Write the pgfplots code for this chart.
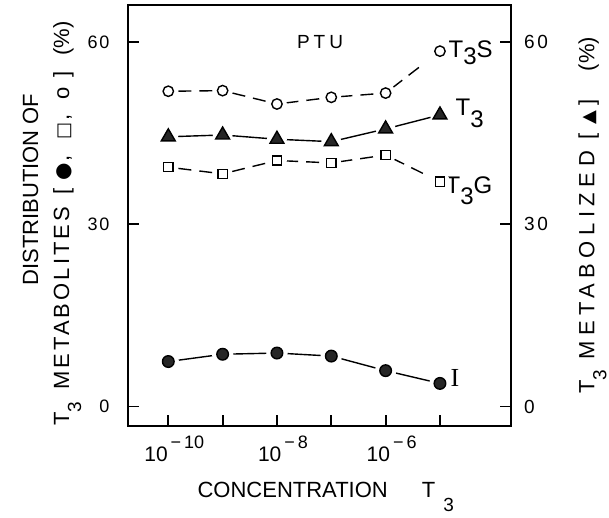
\documentclass[border=0pt]{standalone}
\usepackage{fontspec}
\setmainfont{Liberation Sans}
\newfontfamily\symfont{DejaVu Sans}
\newfontfamily\seriffont{Liberation Serif}
\usepackage{pgfplots}
\usepackage{pgfplotstable}
\pgfplotsset{compat=1.18}
\newcommand{\expo}[1]{10\hspace{1.5pt}\raisebox{6.3pt}{\fontsize{9}{9}\selectfont −\,#1}}
\newcommand{\ls}[2]{{\addfontfeature{LetterSpace=#1}#2}}
\pgfplotstableread{
x y
1e-10 51.9
1e-9 52.0
1e-8 49.8
1e-7 50.9
1e-6 51.6
1e-5 58.5
}\tTS
\pgfplotstableread{
x y
1e-10 44.4
1e-9 44.7
1e-8 44.0
1e-7 43.6
1e-6 45.7
1e-5 48.0
}\tT
\pgfplotstableread{
x y
1e-10 39.4
1e-9 38.3
1e-8 40.5
1e-7 40.1
1e-6 41.4
1e-5 37.0
}\tTG
\pgfplotstableread{
x y
1e-10 7.4
1e-9 8.6
1e-8 8.8
1e-7 8.3
1e-6 5.9
1e-5 3.8
}\tI
\begin{document}
\begin{tikzpicture}
\useasboundingbox (-63.85pt,-46.25pt) rectangle (240.65pt,212.75pt);
\begin{axis}[
  name=main,
  at={(0pt,0pt)}, anchor=south west,
  scale only axis, width=191.65pt, height=210.25pt,
  xmode=log, xmin=1.79e-11, xmax=2.03e-4,
  ymin=-3.13, ymax=66.1,
  axis line style={line width=1pt},
  tick style={line width=0.9pt, black},
  tick align=inside,
  major tick length=5.5pt,
  xminorticks=false, yminorticks=false,
  xtick={1e-10,1e-9,1e-8,1e-7,1e-6,1e-5},
  xticklabels={\expo{10},,\expo{8},,\expo{6},},
  xtick pos=bottom, ytick pos=left,
  ytick={0,30,60},
  /pgf/number format/assume math mode=true,
  yticklabel style={font=\fontsize{9}{10}\selectfont\addfontfeature{LetterSpace=10}, xshift=-5.5pt},
  xticklabel style={font=\fontsize{10.5}{12}\selectfont, xshift=3pt, yshift=-1.5pt},
  xlabel={CONCENTRATION\hspace{17pt}T\hspace{4pt}\raisebox{-7pt}{\fontsize{9.5}{9}\selectfont 3}},
  xlabel style={font=\fontsize{11}{12}\selectfont, at={(rel axis cs:0.5166,-0.1707)}, anchor=base},
  ylabel={\rule{34pt}{0pt}DISTRIBUTION OF\\T\raisebox{-6pt}{\fontsize{9.5}{9}\selectfont 3}\hspace{6pt}\ls{14}{METABOLITES}\hspace{6pt}[\hspace{4pt}{\symfont\fontsize{10}{8}\selectfont ●}\hspace{1pt},\hspace{8pt}{\symfont\fontsize{9}{8}\selectfont □}\hspace{1pt},\hspace{7pt}o\hspace{5pt}]\hspace{8pt}(\%)},
  ylabel style={align=center, font=\fontsize{11}{15.5}\selectfont, at={(rel axis cs:-0.1975,0.48)}, anchor=center},
  line width=0.7pt,
]
% T3S
\addplot[black, dash pattern=on 6.5pt off 4pt on 6.5pt off 10.17pt, dash phase=22.07pt, no markers] table {\tTS};
\addplot[white, only marks, mark=*, mark size=4.6pt] table {\tTS};
\addplot[black, only marks, mark=o, mark size=2.6pt, mark options={solid, fill=white}] table {\tTS};
% T3
\addplot[black, no markers] table {\tT};
\addplot[white, only marks, mark=*, mark size=4.6pt] table {\tT};
\addplot[black, only marks, mark=triangle*, mark size=4pt, mark options={solid, fill=black!85}] table {\tT};
% T3G
\addplot[black, dash pattern=on 6.5pt off 4pt on 6.5pt off 10.17pt, dash phase=22.07pt, no markers] table {\tTG};
\addplot[white, only marks, mark=*, mark size=4.6pt] table {\tTG};
\addplot[black, only marks, mark=square, mark size=2.3pt, mark options={solid, fill=white}] table {\tTG};
% I
\addplot[black, no markers] table {\tI};
\addplot[white, only marks, mark=*, mark size=5pt] table {\tI};
\addplot[black, only marks, mark=*, mark size=2.9pt, mark options={solid, fill=black!85}] table {\tI};
\node[anchor=base, font=\fontsize{9.5}{10}\selectfont] at (axis cs:6.2e-8,59.0) {P\hspace{2pt}T\hspace{2pt}U};
\node[anchor=base west, inner sep=0pt, font=\fontsize{12}{12}\selectfont] at (axis cs:1.4e-5,57.4) {T\raisebox{-3.3pt}{3}S};
\node[anchor=base west, inner sep=0pt, font=\fontsize{12}{12}\selectfont] at (axis cs:1.89e-5,47.9) {T\raisebox{-6pt}{3}};
\node[anchor=base west, inner sep=0pt, font=\fontsize{12}{12}\selectfont] at (axis cs:1.24e-5,35.1) {T\raisebox{-5.8pt}{3}G};
\node[anchor=base west, inner sep=0pt, font=\fontsize{13}{13}\seriffont] at (axis cs:1.53e-5,3.3) {I};
\node[anchor=base, font=\fontsize{10}{12}\selectfont\itshape] at (rel axis cs:0.9009,-0.0985) {M};
\end{axis}
\begin{axis}[
  at={(0pt,0pt)}, anchor=south west,
  scale only axis, width=191.65pt, height=210.25pt,
  xmin=0, xmax=1, ymin=-3.13, ymax=66.1,
  hide x axis,
  axis y line*=right,
  axis line style={line width=1pt, -},
  tick style={line width=0.9pt, black},
  tick align=inside,
  major tick length=5.5pt,
  yminorticks=false,
  ytick={0,30,60},
  /pgf/number format/assume math mode=true,
  yticklabel style={font=\fontsize{9.5}{10}\selectfont\addfontfeature{LetterSpace=14}, xshift=3pt},
  ylabel={T\raisebox{-6pt}{\fontsize{9.5}{9}\selectfont 3}\hspace{5pt}\ls{25}{METABOLIZED}\hspace{6pt}[\hspace{4pt}{\symfont\fontsize{9}{8}\selectfont ▲}\hspace{3pt}]\hspace{14pt}(\%)},
  ylabel style={font=\fontsize{11}{15.5}\selectfont, at={(rel axis cs:1.2127,0.50)}, anchor=center},
]
\end{axis}
\end{tikzpicture}
\end{document}
